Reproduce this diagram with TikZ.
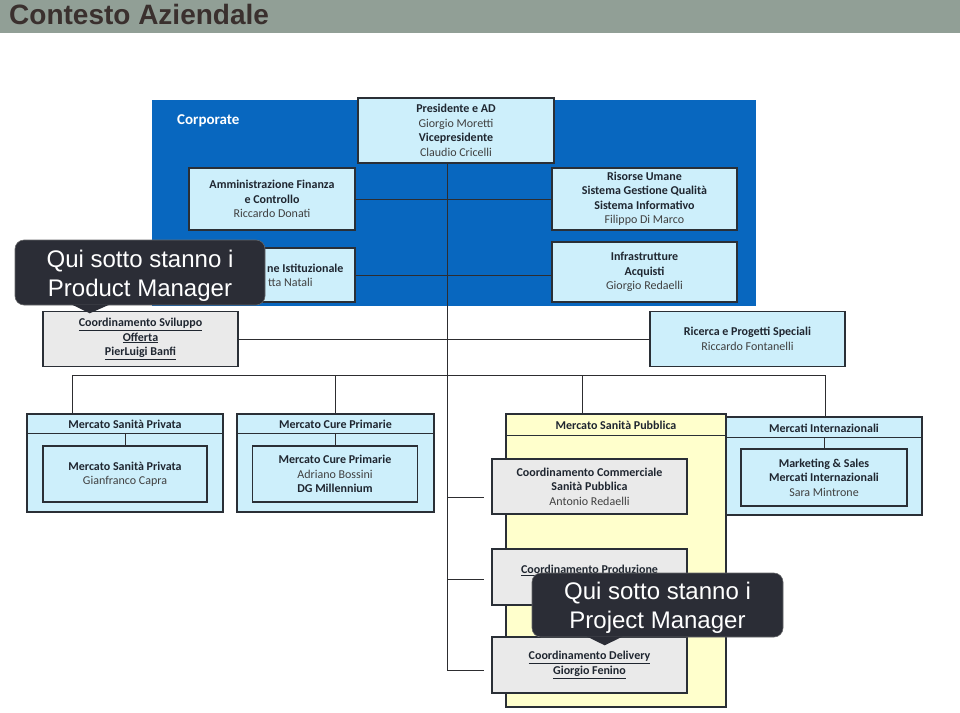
\documentclass[tikz,border=0pt]{standalone}
\usepackage{fontspec}
\setmainfont{Carlito}
\newfontfamily\arialf{Liberation Sans}
\definecolor{titlebg}{RGB}{145,159,150}
\definecolor{titlec}{RGB}{58,48,46}
\definecolor{corpblue}{RGB}{8,103,191}
\definecolor{cyanc}{RGB}{205,239,251}
\definecolor{grayc}{RGB}{234,234,234}
\definecolor{yellc}{RGB}{255,255,204}
\definecolor{bordc}{RGB}{42,47,54}
\definecolor{linec}{RGB}{45,45,48}
\definecolor{txtc}{RGB}{31,38,48}
\definecolor{namec}{RGB}{64,64,64}
\definecolor{callc}{RGB}{43,45,54}
\newcommand\nm[1]{\textcolor{namec}{#1}}
\tikzset{
  basebox/.style={draw=bordc, line width=1.1pt, inner sep=0pt, align=center,
    font=\fontsize{12}{14.5}\selectfont, text=txtc},
  cbox/.style={basebox, fill=cyanc},
  gbox/.style={basebox, fill=grayc},
  ybox/.style={basebox, fill=yellc},
  conn/.style={draw=linec, line width=0.9pt},
  lbl/.style={inner sep=0pt, align=center, font=\fontsize{12}{14.5}\selectfont\bfseries, text=txtc},
  callout/.style={fill=callc, draw=gray!70!callc, line width=0.6pt, rounded corners=9pt, inner sep=0pt},
  calltext/.style={inner sep=0pt, align=center, text=white, font=\arialf\fontsize{24}{28.5}\selectfont},
  callptr/.style={fill=callc}
}
\begin{document}
\begin{tikzpicture}[x=1pt,y=-1pt]
\useasboundingbox (0,0) rectangle (960,712);
% title bar
\fill[titlebg] (0,0) rectangle (960,33);
\node[anchor=base west, inner sep=0pt, font=\arialf\bfseries\fontsize{28}{30}\selectfont, text=titlec] (title) at (9,24.5) {Contesto Aziendale};

% corporate area
\fill[corpblue] (152,100) rectangle (756,306);
\node[anchor=west, inner sep=0pt, text=white, font=\fontsize{15}{18}\selectfont\bfseries] (corp) at (177,121) {Corporate};

% main vertical line and lower coordinates
\coordinate (vend) at (447,670);
\coordinate (s1) at (484,497);
\coordinate (s2) at (484,579);
\coordinate (s3) at (484,670);
\coordinate (b1) at (72,375);
\coordinate (b2) at (335,375);
\coordinate (b3) at (582,375);
\coordinate (b4) at (825,375);

% corporate boxes
\node[cbox, minimum width=196pt, minimum height=65pt] (pres) at (456,130.5)
  {\textbf{Presidente e AD}\\\nm{Giorgio Moretti}\\\textbf{Vicepresidente}\\\nm{Claudio Cricelli}};
\node[cbox, minimum width=166pt, minimum height=62pt] (amm) at (272,199)
  {\textbf{Amministrazione Finanza}\\\textbf{e Controllo}\\\nm{Riccardo Donati}};
\node[cbox, minimum width=166pt, minimum height=54pt] (ist) at (272,275) {};
\node[cbox, minimum width=185pt, minimum height=62pt] (ris) at (644.5,199)
  {\textbf{Risorse Umane}\\\textbf{Sistema Gestione Qualità}\\\textbf{Sistema Informativo}\\\nm{Filippo Di Marco}};
\node[cbox, minimum width=185pt, minimum height=60pt] (infra) at (644.5,272)
  {\textbf{Infrastrutture}\\\textbf{Acquisti}\\\nm{Giorgio Redaelli}};

% connectors corporate
\draw[conn] (pres.south -| vend) -- (vend);
\draw[conn] (amm.east) -- (ris.west);
\draw[conn] (ist.east) -- (ist.east -| infra.west);

% second level
\node[gbox, minimum width=195pt, minimum height=55pt] (svil) at (140.5,339)
  {\textbf{\underline{Coordinamento Sviluppo}}\\\textbf{\underline{Offerta}}\\\textbf{\underline{PierLuigi Banfi}}};
\node[cbox, minimum width=195pt, minimum height=55pt] (ric) at (747.5,339)
  {\textbf{Ricerca e Progetti Speciali}\\\nm{Riccardo Fontanelli}};
\draw[conn] (svil.east) -- (ric.west);

% bus
\draw[conn] (b1) -- (b4);

% Mercato Sanità Privata
\node[cbox, minimum width=196pt, minimum height=98pt] (msp) at (125,463) {};
\draw[conn, draw=bordc] (msp.west |- 0,433) -- (msp.east |- 0,433);
\node[lbl] (msph) at (125,424.5) {Mercato Sanità Privata};
\node[cbox, minimum width=164pt, minimum height=56pt] (mspi) at (125,474)
  {\textbf{Mercato Sanità Privata}\\\nm{Gianfranco Capra}};
\draw[conn] (mspi.north |- 0,433) -- (mspi.north);
\draw[conn] (b1) -- (b1 |- msp.north);

% Mercato Cure Primarie
\node[cbox, minimum width=197pt, minimum height=98pt] (mcp) at (335.5,463) {};
\draw[conn, draw=bordc] (mcp.west |- 0,433) -- (mcp.east |- 0,433);
\node[lbl] (mcph) at (335.5,424.5) {Mercato Cure Primarie};
\node[cbox, minimum width=165pt, minimum height=56pt] (mcpi) at (335,474)
  {\textbf{Mercato Cure Primarie}\\\nm{Adriano Bossini}\\\textbf{DG Millennium}};
\draw[conn] (mcpi.north |- 0,433) -- (mcpi.north);
\draw[conn] (b2) -- (b2 |- mcp.north);

% Mercato Sanità Pubblica
\node[ybox, minimum width=220pt, minimum height=293pt] (msb) at (616,560.5) {};
\draw[conn, draw=bordc] (msb.west |- 0,435) -- (msb.east |- 0,435);
\node[lbl] (msbh) at (616,425) {Mercato Sanità Pubblica};
\draw[conn] (b3) -- (b3 |- msb.north);

% Mercati Internazionali
\node[cbox, minimum width=196pt, minimum height=98pt] (mi) at (824,466) {};
\draw[conn, draw=bordc] (mi.west |- 0,437) -- (mi.east |- 0,437);
\node[lbl] (mih) at (824,428.5) {Mercati Internazionali};
\node[cbox, minimum width=166pt, minimum height=57pt] (mii) at (824,477.5)
  {\textbf{Marketing \& Sales}\\\textbf{Mercati Internazionali}\\\nm{Sara Mintrone}};
\draw[conn] (mii.north |- 0,437) -- (mii.north);
\draw[conn] (b4) -- (b4 |- mi.north);

% coordination boxes
\node[gbox, minimum width=195pt, minimum height=55pt] (ccom) at (589.5,486.5)
  {\textbf{Coordinamento Commerciale}\\\textbf{Sanità Pubblica}\\\nm{Antonio Redaelli}};
\node[gbox, minimum width=195pt, minimum height=56pt] (cprod) at (589.5,577) {};
\node[lbl] (cprodt) at (589.5,570.5) {\underline{Coordinamento Produzione}};
\node[gbox, minimum width=195pt, minimum height=56pt] (cdel) at (589.5,665)
  {\textbf{\underline{Coordinamento Delivery}}\\\textbf{\underline{Giorgio Fenino}}};
\draw[conn] (s1 -| vend) -- (s1);
\draw[conn] (s2 -| vend) -- (s2);
\draw[conn] (vend) -- (s3);

% partially hidden texts
\node[lbl, anchor=west] (istt) at (267,268) {ne Istituzionale};
\node[inner sep=0pt, anchor=west, font=\fontsize{12}{14.5}\selectfont, text=namec] (istn) at (268,282) {tta Natali};

% callouts
\node[callout, minimum width=250pt, minimum height=65pt] (cPM) at (140,272.5) {};
\fill[callptr] ([xshift=57pt,yshift=0.8pt]cPM.south west) -- ([xshift=75pt,yshift=-8pt]cPM.south west) -- ([xshift=95pt,yshift=0.8pt]cPM.south west) -- cycle;
\node[calltext] (cPMt) at (140,276) {Qui sotto stanno i\\Product Manager};
\node[callout, minimum width=251pt, minimum height=64pt] (cPJ) at (657.5,605) {};
\fill[callptr] ([xshift=55pt,yshift=0.8pt]cPJ.south west) -- ([xshift=73pt,yshift=-8pt]cPJ.south west) -- ([xshift=91pt,yshift=0.8pt]cPJ.south west) -- cycle;
\node[calltext] (cPJt) at (657.5,608) {Qui sotto stanno i\\Project Manager};
\end{tikzpicture}
\end{document}
